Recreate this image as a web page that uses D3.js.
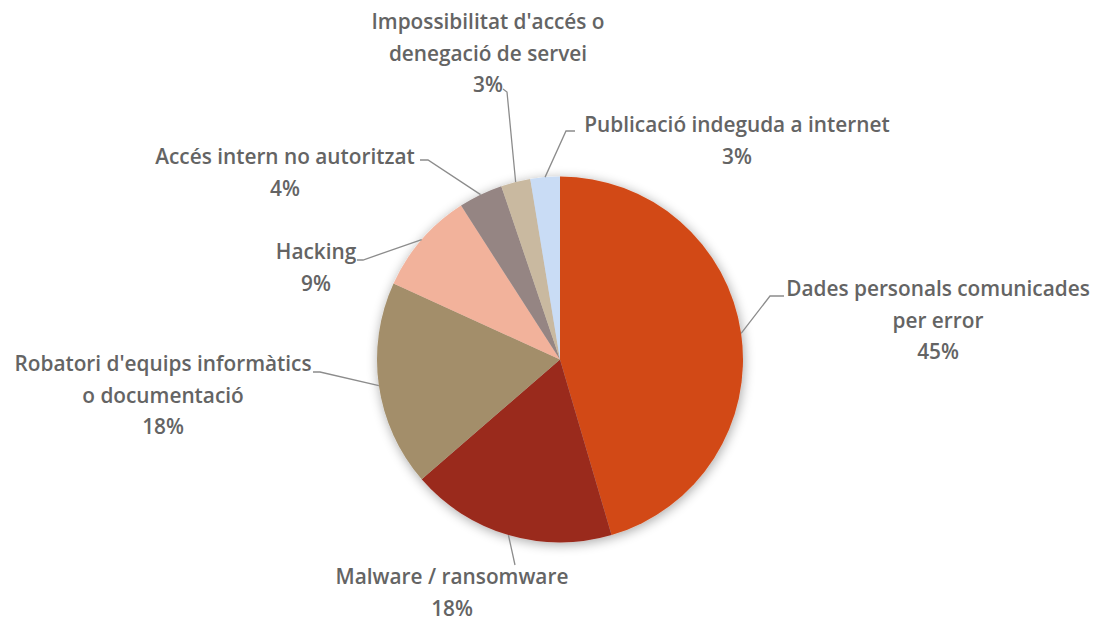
<!DOCTYPE html>
<html><head><meta charset="utf-8">
<script src="https://cdn.jsdelivr.net/npm/d3@7"></script>
<style>html,body{margin:0;padding:0;background:#fff;}svg{display:block;}</style>
</head><body>
<svg id="c" width="1094" height="621"></svg>
<script>
const categories = ["Dades personals comunicades per error","Malware / ransomware","Robatori d'equips informàtics o documentació","Hacking","Accés intern no autoritzat","Impossibilitat d'accés o denegació de servei","Publicació indeguda a internet"];
const values = [35,14,14,7,3,2,2];
const colors = ["#D24A17","#9A2B1E","#A38E6A","#F2B29B","#958583","#C9B9A0","#C9DCF5"];
// label layout: text lines, text centre x, first line y, leader path elbow & end
const labelLines = [["Dades personals comunicades","per error"],["Malware / ransomware"],["Robatori d'equips informàtics","o documentació"],["Hacking"],["Accés intern no autoritzat"],["Impossibilitat d'accés o","denegació de servei"],["Publicació indeguda a internet"]];
const labelPos = [[938,289],[452,577],[163,364],[316,252],[285,157],[488,22],[737,125]];
const leaderPts = [[[770,296],[784,296]],[[515,565]],[[320,372],[313,372]],[[363,260],[357,260]],[[428,160],[420,160]],[[507,92],[503,89]],[[566,131],[575,131]]];

const svg = d3.select("#c");
const cx = 560, cy = 359.5, R = 183;
const defs = svg.append("defs");
const f = defs.append("filter").attr("id","sh").attr("x","-20%").attr("y","-20%").attr("width","140%").attr("height","140%");
f.append("feGaussianBlur").attr("in","SourceAlpha").attr("stdDeviation",6).attr("result","b");
f.append("feOffset").attr("in","b").attr("dx",1).attr("dy",2).attr("result","o");
f.append("feComponentTransfer").attr("in","o").attr("result","o2").append("feFuncA").attr("type","linear").attr("slope",0.35);
const m = f.append("feMerge"); m.append("feMergeNode").attr("in","o2"); m.append("feMergeNode").attr("in","SourceGraphic");

const pie = d3.pie().sort(null).value(d=>d)(values);
const arc = d3.arc().innerRadius(0).outerRadius(R);
const g = svg.append("g").attr("transform",`translate(${cx},${cy})`);
g.append("g").attr("filter","url(#sh)").selectAll("path").data(pie).join("path")
  .attr("d",arc).attr("fill",(d,i)=>colors[i]);

const total = d3.sum(values);
const fmt = v => Math.round(v/total*100)+"%";
pie.forEach((d,i)=>{
  const a = (d.startAngle+d.endAngle)/2;
  const sx = cx + R*Math.sin(a), sy = cy - R*Math.cos(a);
  const pts = [[sx,sy]].concat(leaderPts[i]);
  svg.append("path").attr("d",d3.line()(pts)).attr("fill","none").attr("stroke","#8c8c8c").attr("stroke-width",1.3);
  const t = svg.append("text").attr("text-anchor","middle")
    .attr("font-family","'Open Sans', 'Noto Sans', sans-serif").attr("font-weight",600)
    .attr("font-size",20.8).attr("fill","#646464");
  const lines = labelLines[i].concat([fmt(d.value)]);
  lines.forEach((l,j)=>{
    t.append("tspan").attr("x",labelPos[i][0]).attr("y",labelPos[i][1]+j*31.5).attr("dy","0.35em").text(l);
  });
});
</script>
</body></html>
